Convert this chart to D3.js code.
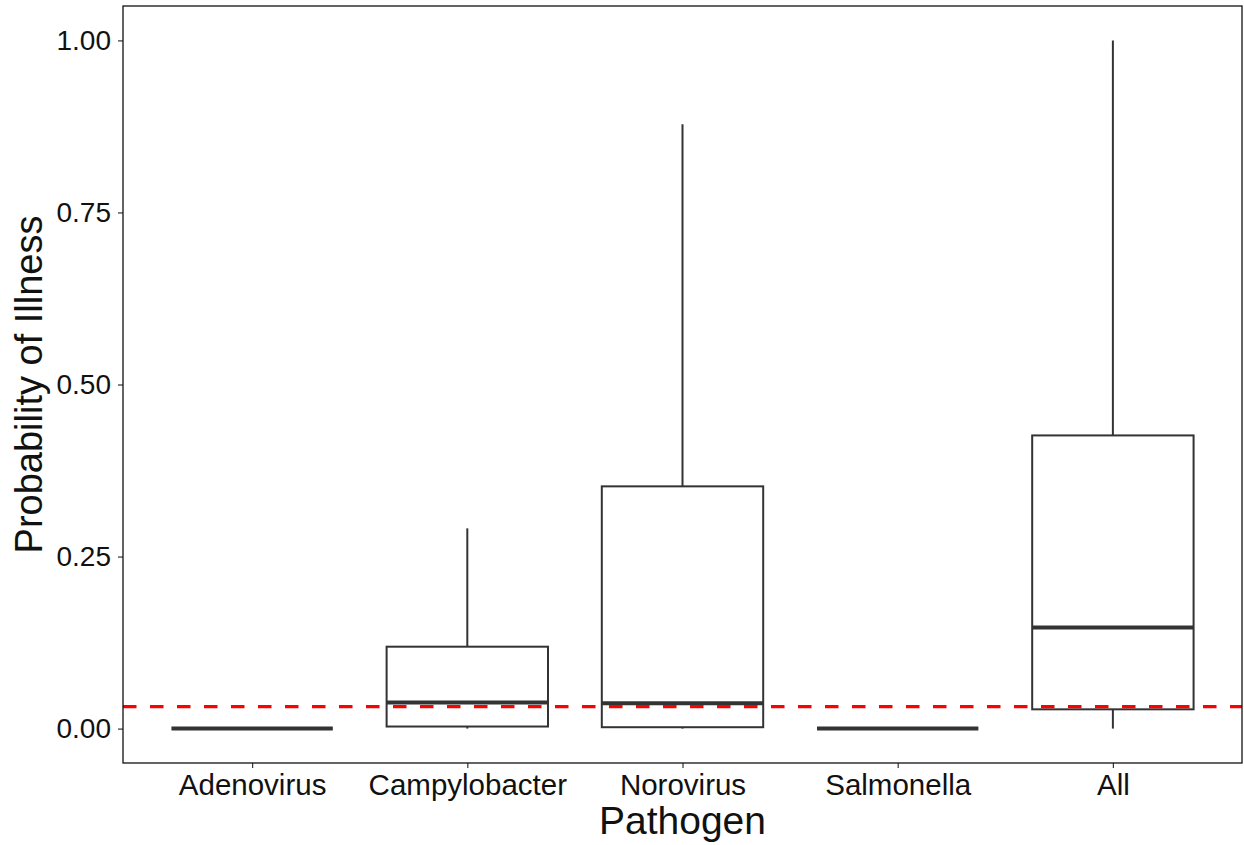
<!DOCTYPE html>
<html>
<head>
<meta charset="utf-8">
<script src="https://cdn.jsdelivr.net/npm/d3@7"></script>
<style>
  body { margin: 0; background: #fff; }
  text { font-family: "Liberation Sans", Arial, Helvetica, sans-serif; }
</style>
</head>
<body>
<div id="graph"></div>
<script>
// pathogen boxplot summaries
var pathogens = ["Adenovirus", "Campylobacter", "Norovirus", "Salmonella", "All"];
var whiskerLow = [0, 0, 0, 0, 0];
var boxLow = [0, 0.003, 0.002, 0, 0.028];
var medians = [0, 0.038, 0.037, 0, 0.147];
var boxHigh = [0, 0.119, 0.352, 0, 0.426];
var whiskerHigh = [0, 0.291, 0.878, 0, 1.0];
var yTicks = [0, 0.25, 0.5, 0.75, 1.0];
var threshold = 0.032;

var width = 1244, height = 845;
var margin = {top: 6, right: 2, bottom: 82, left: 123};
var plotW = width - margin.left - margin.right;
var plotH = height - margin.top - margin.bottom;

var data = pathogens.map(function(p, i) {
  return {name: p, lo: whiskerLow[i], q1: boxLow[i], med: medians[i], q3: boxHigh[i], hi: whiskerHigh[i]};
});

var svg = d3.select("#graph").append("svg")
  .attr("width", width)
  .attr("height", height);

var g = svg.append("g")
  .attr("transform", "translate(" + margin.left + "," + margin.top + ")");

// discrete axis with 0.6 unit expansion each side, like ggplot
var x = d3.scalePoint()
  .domain(pathogens)
  .range([0, plotW])
  .padding(0.6);

var y = d3.scaleLinear()
  .domain([-0.05, 1.05])
  .range([plotH, 0]);

var boxW = x.step() * 0.75;
var ink = "#333333";

// axes
var yAxis = g.append("g")
  .call(d3.axisLeft(y).tickValues(yTicks).tickFormat(d3.format(".2f")).tickSize(5).tickPadding(7));
yAxis.select(".domain").remove();
yAxis.selectAll("line").attr("stroke", ink).attr("stroke-width", 1.2);
yAxis.selectAll("text").attr("font-size", 28).attr("fill", "#111");

var xAxis = g.append("g")
  .attr("transform", "translate(0," + plotH + ")")
  .call(d3.axisBottom(x).tickSize(5).tickPadding(6));
xAxis.select(".domain").remove();
xAxis.selectAll("line").attr("stroke", ink).attr("stroke-width", 1.2);
xAxis.selectAll("text").attr("font-size", 29.5).attr("fill", "#111");

// boxes
var box = g.selectAll(".box")
  .data(data)
  .enter()
  .append("g")
  .attr("class", "box")
  .attr("transform", function(d) {
    return "translate(" + x(d.name) + ",0)";
  });

box.append("line")
  .attr("y1", function(d) { return y(d.hi); })
  .attr("y2", function(d) { return y(d.q3); })
  .attr("stroke", ink).attr("stroke-width", 2);

box.append("line")
  .attr("y1", function(d) { return y(d.q1); })
  .attr("y2", function(d) { return y(d.lo); })
  .attr("stroke", ink).attr("stroke-width", 2);

box.append("rect")
  .attr("x", -boxW / 2)
  .attr("width", boxW)
  .attr("y", function(d) { return y(d.q3); })
  .attr("height", function(d) { return y(d.q1) - y(d.q3); })
  .attr("fill", "#fff")
  .attr("stroke", ink)
  .attr("stroke-width", 2);

box.append("line")
  .attr("x1", -boxW / 2)
  .attr("x2", boxW / 2)
  .attr("y1", function(d) { return y(d.med); })
  .attr("y2", function(d) { return y(d.med); })
  .attr("stroke", ink)
  .attr("stroke-width", 4);

// threshold line
g.append("line")
  .attr("x1", 0).attr("x2", plotW)
  .attr("y1", y(threshold)).attr("y2", y(threshold))
  .attr("stroke", "#ff0000")
  .attr("stroke-width", 3.3)
  .attr("stroke-dasharray", "13.5,13.5");

// panel border
g.append("rect")
  .attr("width", plotW).attr("height", plotH)
  .attr("fill", "none")
  .attr("stroke", "#111")
  .attr("stroke-width", 1.3);

// axis titles
svg.append("text")
  .attr("x", margin.left + plotW / 2)
  .attr("y", 834)
  .attr("text-anchor", "middle")
  .attr("font-size", 39)
  .attr("fill", "#111")
  .text("Pathogen");

svg.append("text")
  .attr("transform", "translate(42," + (margin.top + plotH / 2) + ") rotate(-90)")
  .attr("text-anchor", "middle")
  .attr("font-size", 38)
  .attr("fill", "#111")
  .text("Probability of Illness");
</script>
</body>
</html>
